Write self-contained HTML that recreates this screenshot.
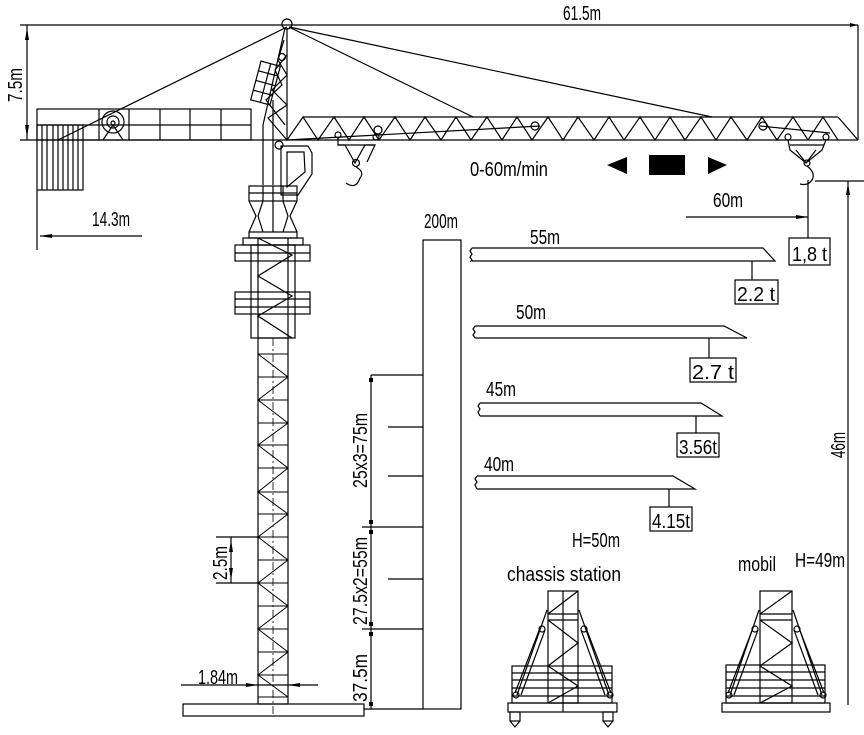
<!DOCTYPE html>
<html><head><meta charset="utf-8"><style>
html,body{margin:0;padding:0;background:#fff}
svg{display:block}
text{font-family:"Liberation Sans",sans-serif;fill:#000;font-size:20px}
</style></head><body>
<svg width="864" height="735" viewBox="0 0 864 735" xmlns="http://www.w3.org/2000/svg">
<g stroke="#000" stroke-width="1.2" fill="none">
<line x1="20" y1="25" x2="858" y2="25"/>
<line x1="858" y1="25" x2="858" y2="140"/>
<line x1="20" y1="140" x2="858" y2="140"/>
<line x1="27" y1="25" x2="27" y2="140"/>
<rect x="37" y="109" width="214" height="31"/>
<line x1="37" y1="125" x2="251" y2="125"/>
<line x1="99" y1="109" x2="99" y2="140"/><line x1="129" y1="109" x2="129" y2="140"/>
<line x1="160" y1="109" x2="160" y2="140"/>
<line x1="190" y1="109" x2="190" y2="140"/><line x1="221" y1="109" x2="221" y2="140"/>
<circle cx="113" cy="122" r="11"/><circle cx="113" cy="122" r="6"/><circle cx="113" cy="123" r="2"/>
<line x1="103" y1="140" x2="113" y2="125"/><line x1="123" y1="140" x2="113" y2="125"/>
<rect x="37" y="125" width="46" height="65"/>
<line x1="42" y1="125" x2="42" y2="190"/><line x1="47" y1="125" x2="47" y2="190"/><line x1="53" y1="125" x2="53" y2="190"/><line x1="58" y1="125" x2="58" y2="190"/><line x1="63" y1="125" x2="63" y2="190"/><line x1="68" y1="125" x2="68" y2="190"/><line x1="73" y1="125" x2="73" y2="190"/><line x1="78" y1="125" x2="78" y2="190"/>
<line x1="37" y1="190" x2="37" y2="250"/>
<line x1="40" y1="236" x2="142" y2="236"/>
<line x1="287" y1="27" x2="58" y2="140"/>
<line x1="289" y1="27" x2="473" y2="117"/>
<line x1="289" y1="27" x2="712" y2="117"/>
<circle cx="287" cy="24" r="5"/>
<line x1="287" y1="28" x2="287" y2="140"/>
<line x1="285" y1="28" x2="263" y2="125"/>
<line x1="263" y1="125" x2="263" y2="185"/>
<line x1="273" y1="100" x2="273" y2="185"/>
<polyline points="284,40 278,60 287,75 272,90 287,105 268,118 287,140"/>
<polyline points="287,55 275,70 282,85 266,100 285,125"/>
<circle cx="282" cy="57" r="3.5"/>
<circle cx="279" cy="145" r="4"/>
<g transform="rotate(15 265 85)"><rect x="255" y="63" width="20" height="40"/><line x1="255" y1="73" x2="275" y2="73"/><line x1="255" y1="83" x2="275" y2="83"/><line x1="255" y1="93" x2="275" y2="93"/><line x1="265" y1="63" x2="265" y2="103"/></g>
<polygon points="281,146 308,146 312,153 312,174 298,195 281,195"/>
<polygon points="287,152 304,152 305,172 287,187"/>
<rect x="249" y="186" width="48" height="15"/>
<line x1="249" y1="193" x2="297" y2="193"/>
<line x1="263" y1="186" x2="263" y2="201"/><line x1="273" y1="186" x2="273" y2="201"/><line x1="283" y1="186" x2="283" y2="201"/>
<polyline points="249,201 256,216 249,232"/><polyline points="297,201 290,216 297,232"/>
<polyline points="263,201 258,216 263,232"/><polyline points="283,201 288,216 283,232"/>
<line x1="273" y1="201" x2="273" y2="232"/>
<rect x="249" y="232" width="48" height="6"/>
<rect x="243" y="238" width="60" height="7"/>
<rect x="251" y="245" width="44" height="93"/>
<rect x="235" y="245" width="75" height="16"/><line x1="235" y1="253" x2="310" y2="253"/>
<rect x="235" y="292" width="75" height="22"/><line x1="235" y1="299" x2="310" y2="299"/><line x1="235" y1="307" x2="310" y2="307"/>
<line x1="258" y1="238" x2="258" y2="338"/><line x1="288" y1="238" x2="288" y2="338"/>
<polyline points="258,238 292,255 258,276 292,296 258,316 292,338"/>
<rect x="258" y="338" width="30" height="366"/>
<line x1="273" y1="338" x2="273" y2="715" stroke-dasharray="8,3,2,3" stroke-width="0.8"/>
<g stroke-width="1">
<line x1="258" y1="354" x2="288" y2="354"/><line x1="258" y1="377" x2="288" y2="377"/><line x1="258" y1="400" x2="288" y2="400"/><line x1="258" y1="423" x2="288" y2="423"/><line x1="258" y1="445" x2="288" y2="445"/><line x1="258" y1="468" x2="288" y2="468"/><line x1="258" y1="492" x2="288" y2="492"/><line x1="258" y1="514" x2="288" y2="514"/><line x1="258" y1="537" x2="288" y2="537"/><line x1="258" y1="560" x2="288" y2="560"/><line x1="258" y1="583" x2="288" y2="583"/><line x1="258" y1="606" x2="288" y2="606"/><line x1="258" y1="629" x2="288" y2="629"/><line x1="258" y1="652" x2="288" y2="652"/><line x1="258" y1="675" x2="288" y2="675"/><line x1="258" y1="697" x2="288" y2="697"/>
<polyline points="258,354 288,377 258,400 288,423 258,445 288,468 258,492 288,514 258,537 288,560 258,583 288,606 258,629 288,652 258,675 288,697"/>
</g>
<rect x="183" y="704" width="181" height="12"/>
<line x1="216" y1="537" x2="258" y2="537"/><line x1="216" y1="583" x2="258" y2="583"/>
<line x1="231" y1="537" x2="231" y2="583"/>
<line x1="181" y1="685" x2="318" y2="685"/>
<line x1="303" y1="117" x2="838" y2="117"/>
<line x1="287" y1="140" x2="540" y2="126"/>
<line x1="760" y1="126" x2="830" y2="133"/>
<line x1="838" y1="117" x2="858" y2="140"/>
<polyline points="287,140 303,117 318,140 334,117 349,140 364,117 379,140 395,117 410,140 425,117 441,140 456,117 471,140 487,117 502,140 517,117 532,140 548,117 563,140 578,117 594,140 609,117 624,140 640,117 655,140 670,117 685,140 701,117 716,140 731,117 747,140 762,117 777,140 793,117 808,140 823,117 838,140"/>
<circle cx="535" cy="126" r="4"/><circle cx="763" cy="126" r="4"/>
<circle cx="338" cy="135" r="3"/><circle cx="378" cy="130" r="4"/><circle cx="376" cy="137" r="3"/>
<polyline points="338,138 338,145 345,145 355,163 365,145 375,145 367,162"/>
<line x1="338" y1="145" x2="375" y2="145"/>
<circle cx="356" cy="163" r="3.5"/>
<path d="M356,167 Q365,172 360,178 Q356,190 346,183"/>
<circle cx="788" cy="137" r="3"/><circle cx="826" cy="137" r="3"/>
<polyline points="788,140 790,150 806,163 822,150 826,140"/>
<line x1="790" y1="145" x2="824" y2="145"/>
<polyline points="796,150 806,163 816,150"/>
<circle cx="807" cy="163" r="3"/>
<path d="M807,166 Q816,173 812,180 Q808,186 800,184"/>
<line x1="686" y1="217" x2="808" y2="217"/>
<line x1="808" y1="180" x2="808" y2="238"/>
<rect x="789" y="238" width="41" height="27"/>
<line x1="815" y1="181" x2="864" y2="181"/>
<line x1="848" y1="181" x2="848" y2="705"/>
<rect x="423" y="240" width="38" height="469"/>
<line x1="364" y1="709" x2="423" y2="709"/>
<line x1="371" y1="375" x2="371" y2="709"/>
<line x1="371" y1="375" x2="423" y2="375"/><line x1="388" y1="427" x2="423" y2="427"/><line x1="388" y1="476" x2="423" y2="476"/><line x1="362" y1="527" x2="423" y2="527"/><line x1="388" y1="579" x2="423" y2="579"/><line x1="362" y1="629" x2="423" y2="629"/>
<polyline points="472,248 763,248 775,261 472,261"/><path d="M472,248 l-2,3 2,3 -2,3 2,3 -2,2"/>
<line x1="752" y1="261" x2="752" y2="280"/><rect x="735" y="280" width="43" height="24"/>
<polyline points="475,326 724,326 747,338 475,338"/><path d="M475,326 l-2,3 2,3 -2,3 2,3"/>
<line x1="709" y1="338" x2="709" y2="358"/><rect x="690" y="358" width="46" height="24"/>
<polyline points="480,403 701,403 722,416 480,416"/><path d="M480,403 l-2,3 2,3 -2,3 2,4"/>
<line x1="696" y1="416" x2="696" y2="433"/><rect x="677" y="433" width="42" height="24"/>
<polyline points="477,476 673,476 695,489 477,489"/><path d="M477,476 l-2,3 2,3 -2,3 2,4"/>
<line x1="669" y1="489" x2="669" y2="507"/><rect x="650" y="507" width="42" height="24"/>
<rect x="548" y="591" width="30" height="112"/>
<line x1="563" y1="591" x2="563" y2="712"/>
<line x1="548" y1="614" x2="578" y2="614"/><line x1="548" y1="620" x2="578" y2="620"/>
<polyline points="578,591 548,614"/><polyline points="548,620 578,643 548,666 578,686 548,703"/>
<rect x="512" y="666" width="100" height="37"/>
<line x1="512" y1="673" x2="612" y2="673"/><line x1="512" y1="680" x2="612" y2="680"/><line x1="512" y1="688" x2="612" y2="688"/><line x1="512" y1="696" x2="612" y2="696"/>
<rect x="508" y="703" width="109" height="9"/>
<line x1="547" y1="610" x2="517" y2="695"/><line x1="579" y1="610" x2="609" y2="695"/>
<line x1="540" y1="628" x2="515" y2="693"/><line x1="545" y1="630" x2="521" y2="695"/>
<line x1="586" y1="628" x2="611" y2="693"/><line x1="581" y1="630" x2="605" y2="695"/>
<circle cx="542" cy="629" r="3"/><circle cx="584" cy="629" r="3"/><circle cx="516" cy="695" r="3"/><circle cx="610" cy="695" r="3"/>
<rect x="510" y="712" width="10" height="9"/><polyline points="510,721 515,727 520,721"/>
<rect x="603" y="712" width="10" height="9"/><polyline points="603,721 608,727 613,721"/>
<rect x="760" y="591" width="32" height="112"/>
<line x1="760" y1="614" x2="792" y2="614"/><line x1="760" y1="620" x2="792" y2="620"/>
<polyline points="792,591 760,614"/><polyline points="760,620 792,643 760,666 792,686 760,703"/>
<rect x="726" y="665" width="99" height="38"/>
<line x1="726" y1="672" x2="825" y2="672"/><line x1="726" y1="680" x2="825" y2="680"/><line x1="726" y1="688" x2="825" y2="688"/><line x1="726" y1="696" x2="825" y2="696"/>
<rect x="722" y="703" width="108" height="9"/>
<line x1="759" y1="610" x2="730" y2="695"/><line x1="793" y1="610" x2="822" y2="695"/>
<line x1="753" y1="628" x2="728" y2="693"/><line x1="758" y1="630" x2="734" y2="695"/>
<line x1="799" y1="628" x2="824" y2="693"/><line x1="794" y1="630" x2="818" y2="695"/>
<circle cx="755" cy="629" r="3"/><circle cx="797" cy="629" r="3"/><circle cx="729" cy="695" r="3"/><circle cx="823" cy="695" r="3"/>
</g>
<g fill="#000">
<polygon points="607,165 627,157 627,174"/>
<rect x="649" y="155" width="36" height="20"/>
<polygon points="708,157 708,174 727,165"/>
<polygon points="858,25 850,23 850,27"/>
<polygon points="27,28 25,40 29,40"/><polygon points="27,137 25,125 29,125"/>
<polygon points="40,236 52,234 52,238"/>
<polygon points="808,217 796,215 796,219"/>
<polygon points="848,183 846,195 850,195"/>
<polygon points="231,540 229,552 233,552"/><polygon points="231,580 229,568 233,568"/>
<polygon points="258,685 246,683 246,687"/><polygon points="288,685 300,683 300,687"/>
<rect x="369" y="378" width="4" height="4"/><rect x="369" y="520" width="4" height="4"/><rect x="369" y="530" width="4" height="4"/><rect x="369" y="622" width="4" height="4"/><rect x="369" y="632" width="4" height="4"/><rect x="369" y="702" width="4" height="4"/>
</g>
<text x="563" y="20" textLength="38" lengthAdjust="spacingAndGlyphs">61.5m</text>
<text transform="translate(22,102) rotate(-90)" textLength="34" lengthAdjust="spacingAndGlyphs">7.5m</text>
<text x="92" y="226" textLength="38" lengthAdjust="spacingAndGlyphs">14.3m</text>
<text x="470" y="176" textLength="78" lengthAdjust="spacingAndGlyphs">0-60m/min</text>
<text x="713" y="207" textLength="30" lengthAdjust="spacingAndGlyphs">60m</text>
<text x="424" y="228" textLength="34" lengthAdjust="spacingAndGlyphs">200m</text>
<text x="530" y="244" textLength="30" lengthAdjust="spacingAndGlyphs">55m</text>
<text x="516" y="319" textLength="30" lengthAdjust="spacingAndGlyphs">50m</text>
<text x="486" y="396" textLength="30" lengthAdjust="spacingAndGlyphs">45m</text>
<text x="484" y="471" textLength="30" lengthAdjust="spacingAndGlyphs">40m</text>
<text x="792" y="261" textLength="35" lengthAdjust="spacingAndGlyphs">1,8 t</text>
<text x="737" y="301" textLength="38" lengthAdjust="spacingAndGlyphs">2.2 t</text>
<text x="692" y="379" textLength="42" lengthAdjust="spacingAndGlyphs">2.7 t</text>
<text x="679" y="454" textLength="38" lengthAdjust="spacingAndGlyphs">3.56t</text>
<text x="652" y="528" textLength="38" lengthAdjust="spacingAndGlyphs">4.15t</text>
<text transform="translate(845,458) rotate(-90)" textLength="26" lengthAdjust="spacingAndGlyphs">46m</text>
<text transform="translate(367,488) rotate(-90)" textLength="75" lengthAdjust="spacingAndGlyphs">25x3=75m</text>
<text transform="translate(367,625) rotate(-90)" textLength="88" lengthAdjust="spacingAndGlyphs">27.5x2=55m</text>
<text transform="translate(367,702) rotate(-90)" textLength="48" lengthAdjust="spacingAndGlyphs">37.5m</text>
<text transform="translate(227,580) rotate(-90)" textLength="34" lengthAdjust="spacingAndGlyphs">2.5m</text>
<text x="198" y="684" textLength="40" lengthAdjust="spacingAndGlyphs">1.84m</text>
<text x="572" y="547" textLength="48" lengthAdjust="spacingAndGlyphs">H=50m</text>
<text x="507" y="581" textLength="114" lengthAdjust="spacingAndGlyphs">chassis station</text>
<text x="738" y="571" textLength="38" lengthAdjust="spacingAndGlyphs">mobil</text>
<text x="795" y="567" textLength="50" lengthAdjust="spacingAndGlyphs">H=49m</text>
</svg>
</body></html>
